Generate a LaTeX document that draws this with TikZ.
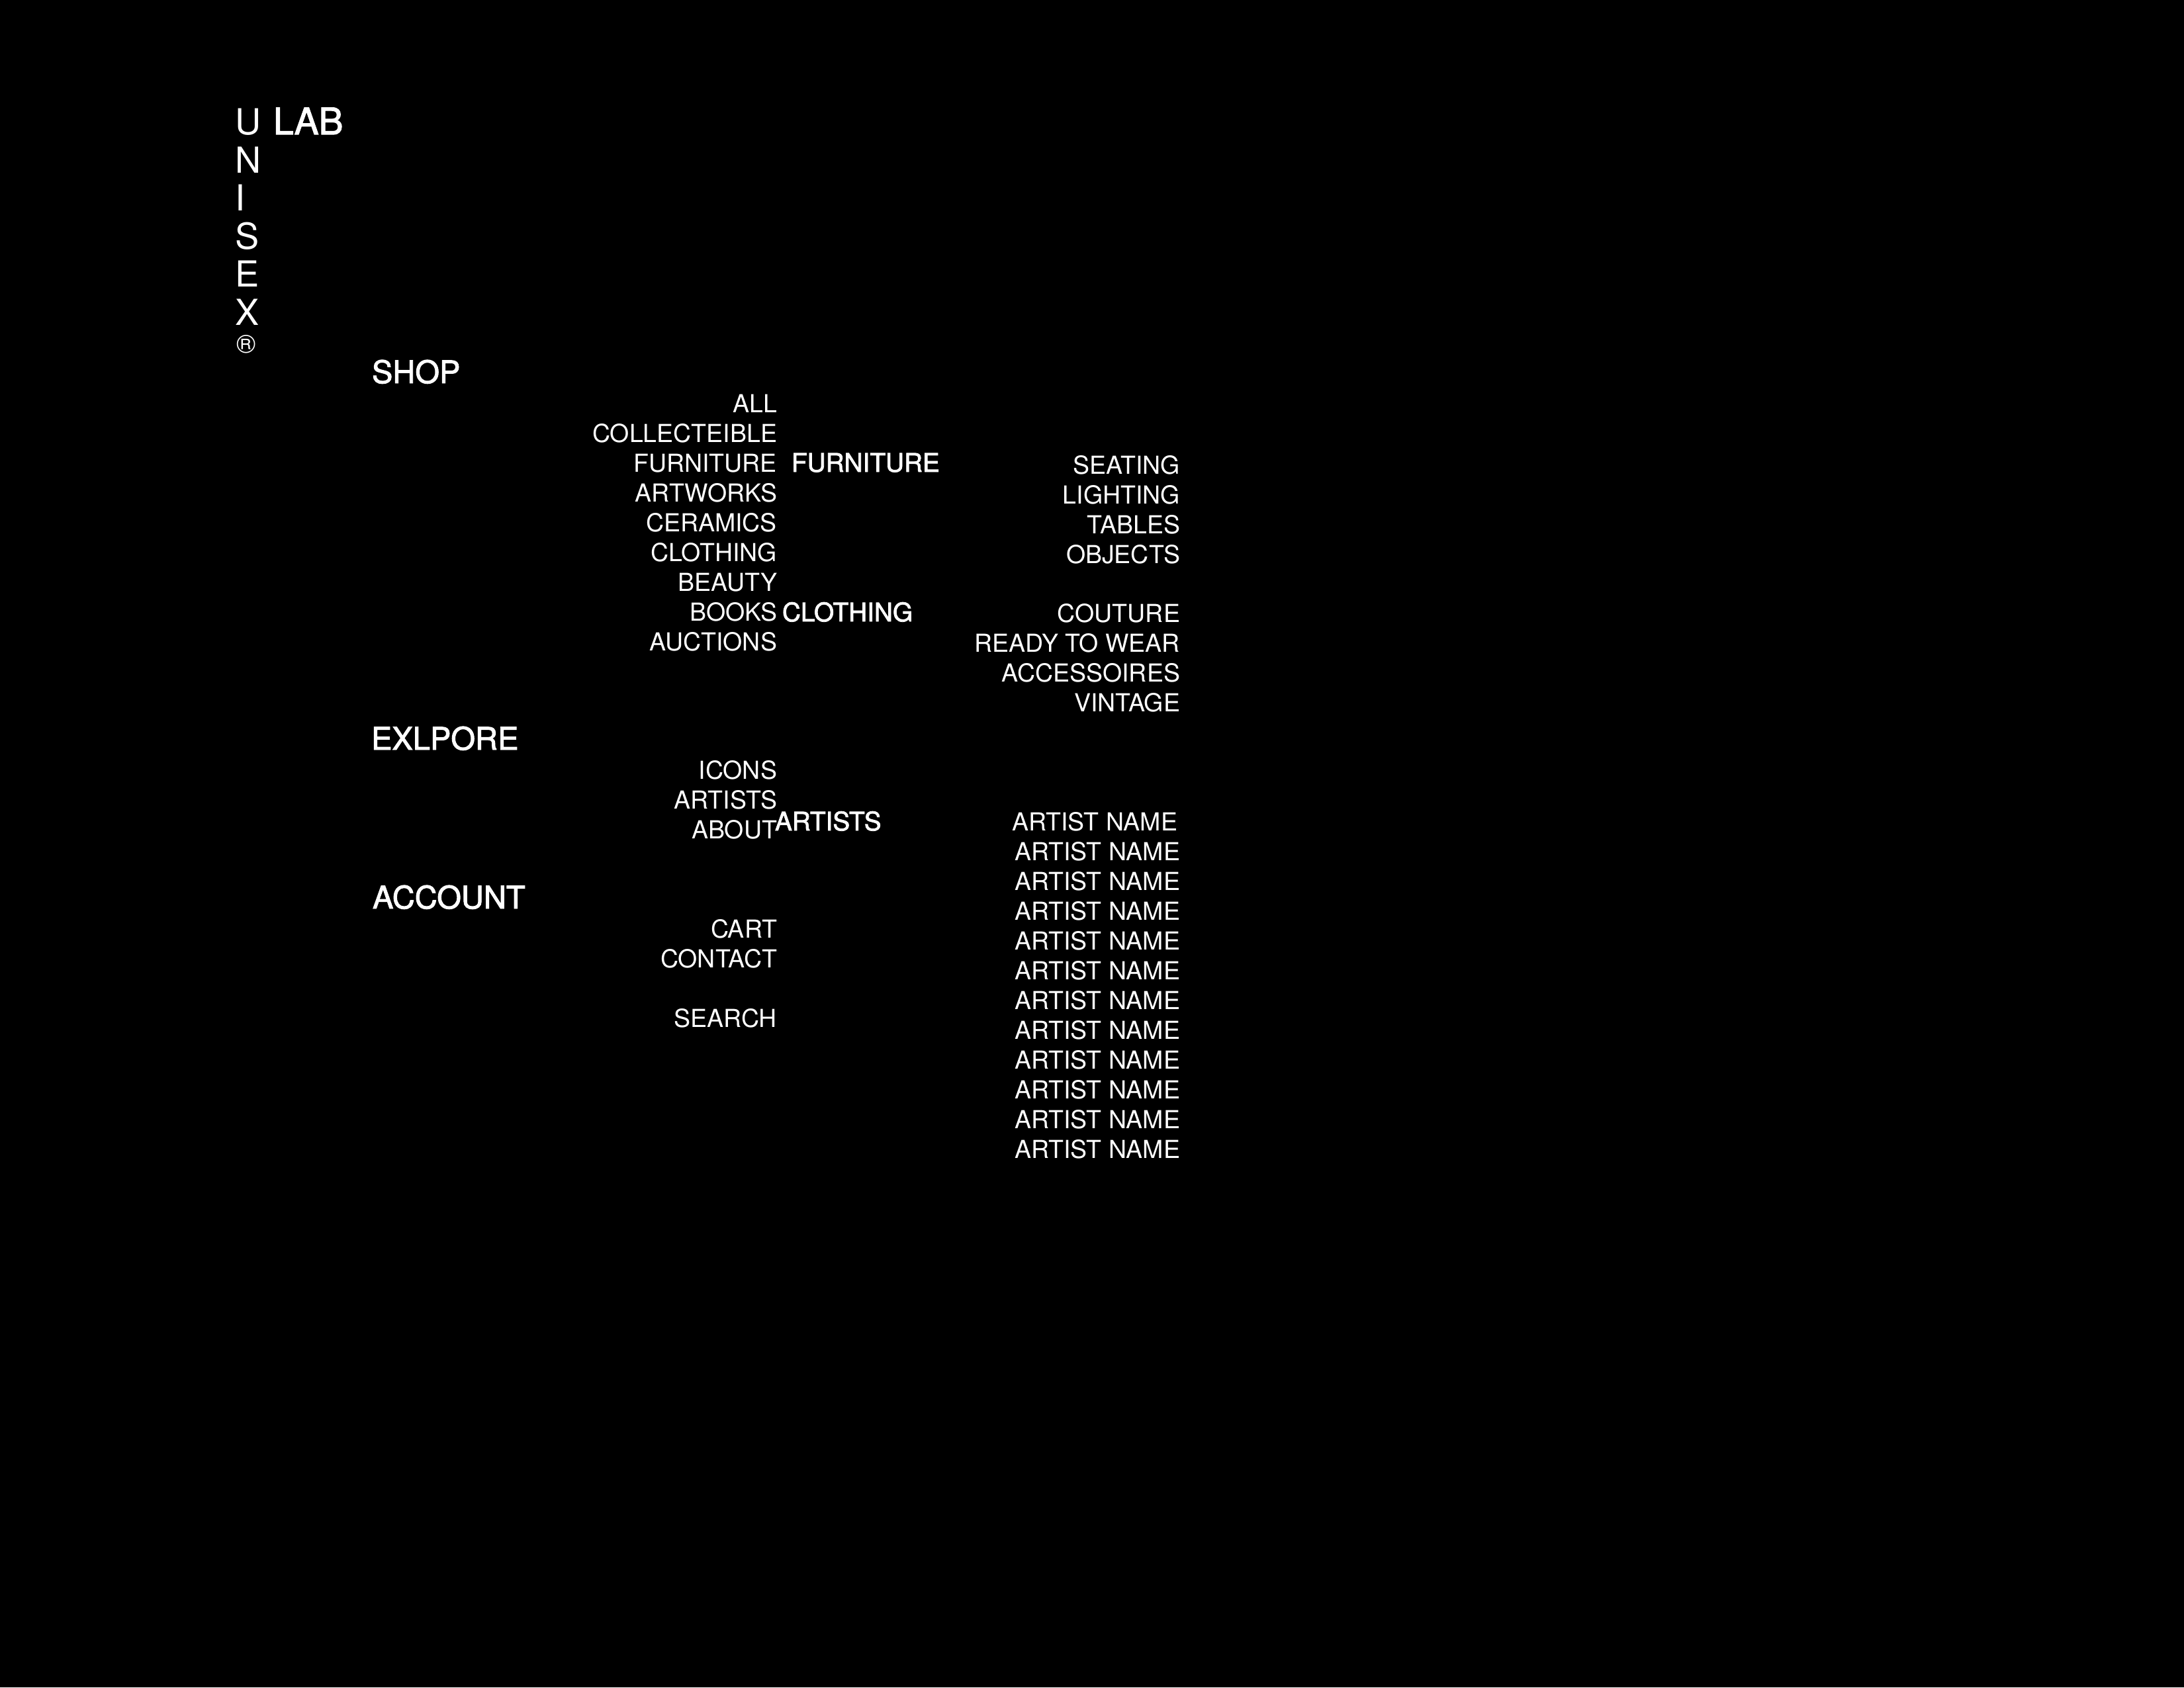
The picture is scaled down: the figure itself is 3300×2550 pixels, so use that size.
\documentclass[tikz,border=0pt]{standalone}
\usepackage{fontspec}
\setmainfont{TeX Gyre Heros}
\newfontfamily\medfont[FakeBold=2]{TeX Gyre Heros}
\usepackage{tikz}
\usetikzlibrary{positioning}
\tikzset{
   every node/.style={inner sep=0pt,outer sep=0pt,text=white},
   logo/.style={anchor=base west,font=\fontsize{13}{13}\selectfont},
   logob/.style={anchor=base west,font=\medfont\fontsize{13.3}{13.3}\selectfont},
   regmark/.style={font=\fontsize{9.5}{9.5}\selectfont},
   hdr/.style={anchor=base west,font=\medfont\fontsize{11.3}{11.3}\selectfont},
   itm/.style={anchor=base east,font=\fontsize{9}{9}\selectfont},
   sub/.style={anchor=base west,font=\medfont\fontsize{9.3}{9.3}\selectfont},
   leaf/.style={anchor=base east,font=\fontsize{9}{9}\selectfont},
}
\begin{document}
\begin{tikzpicture}[x=0.24pt,y=-0.24pt]
      \fill[black] (0,0) rectangle (3300,2550);
      % logo
      \node[logo] (lu) at (355,203) {U};
      \node[logo] (ln) at (355,261) {N};
      \node[logo] (li) at (355,318) {I};
      \node[logo] (ls) at (355,376) {S};
      \node[logo] (le) at (355,433) {E};
      \node[logo] (lx) at (355,491) {X};
      \node[regmark] (lr) at (372,520) {\textregistered};
      \node[logob] (lab) at (413,203) {LAB};
      % shop
      \node[hdr] (shop) at (562,579) {SHOP};
      \node[itm] (all) at (1174,623) {ALL};
      \node[itm] (coll) at (1174,668) {COLLECTEIBLE};
      \node[itm] (furn) at (1174,713) {FURNITURE};
      \node[itm] (artw) at (1174,758) {ARTWORKS};
      \node[itm] (cera) at (1174,803) {CERAMICS};
      \node[itm] (clot) at (1174,848) {CLOTHING};
      \node[itm] (beau) at (1174,893) {BEAUTY};
      \node[itm] (book) at (1174,938) {BOOKS};
      \node[itm] (auct) at (1174,983) {AUCTIONS};
      \node[sub] (furnsub) at (1196,713) {FURNITURE};
      \node[leaf] (seat) at (1783,716) {SEATING};
      \node[leaf] (ligh) at (1783,761) {LIGHTING};
      \node[leaf] (tabl) at (1783,806) {TABLES};
      \node[leaf] (obje) at (1783,851) {OBJECTS};
      \node[sub] (clotsub) at (1182,939) {CLOTHING};
      \node[leaf] (cout) at (1783,940) {COUTURE};
      \node[leaf] (read) at (1783,985) {READY TO WEAR};
      \node[leaf] (acce) at (1783,1030) {ACCESSOIRES};
      \node[leaf] (vint) at (1783,1075) {VINTAGE};
      % explore
      \node[hdr] (expl) at (561,1133) {EXLPORE};
      \node[itm] (icon) at (1174,1177) {ICONS};
      \node[itm] (arts) at (1174,1222) {ARTISTS};
      \node[itm] (abou) at (1174,1267) {ABOUT};
      \node[sub] (artssub) at (1171,1255) {ARTISTS};
      \node[leaf] (an1) at (1779,1255) {ARTIST NAME};
      \node[leaf] (an2) at (1783,1300) {ARTIST NAME};
      \node[leaf] (an3) at (1783,1345) {ARTIST NAME};
      \node[leaf] (an4) at (1783,1390) {ARTIST NAME};
      \node[leaf] (an5) at (1783,1435) {ARTIST NAME};
      \node[leaf] (an6) at (1783,1480) {ARTIST NAME};
      \node[leaf] (an7) at (1783,1525) {ARTIST NAME};
      \node[leaf] (an8) at (1783,1570) {ARTIST NAME};
      \node[leaf] (an9) at (1783,1615) {ARTIST NAME};
      \node[leaf] (an10) at (1783,1660) {ARTIST NAME};
      \node[leaf] (an11) at (1783,1705) {ARTIST NAME};
      \node[leaf] (an12) at (1783,1750) {ARTIST NAME};
      % account
      \node[hdr] (acco) at (563,1373) {ACCOUNT};
      \node[itm] (cart) at (1174,1417) {CART};
      \node[itm] (cont) at (1174,1462) {CONTACT};
      \node[itm] (sear) at (1174,1552) {SEARCH};
\end{tikzpicture}
\end{document}
